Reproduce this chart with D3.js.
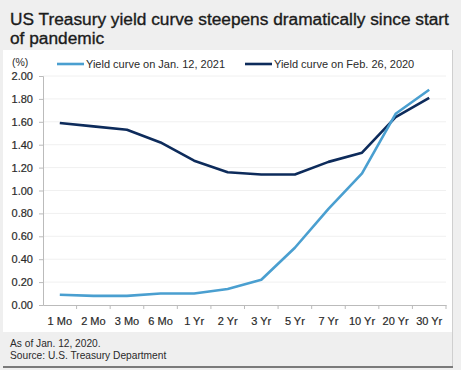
<!DOCTYPE html>
<html><head><meta charset="utf-8">
<script src="https://cdn.jsdelivr.net/npm/d3@7"></script>
<style>
html,body{margin:0;padding:0;background:#fff;}
svg{display:block;font-family:"Liberation Sans",Arial,sans-serif;}
</style></head>
<body><svg id="c" width="461" height="370"></svg>
<script>
const categories = ["1 Mo","2 Mo","3 Mo","6 Mo","1 Yr","2 Yr","3 Yr","5 Yr","7 Yr","10 Yr","20 Yr","30 Yr"];
const yieldJan2021 = [0.09,0.08,0.08,0.10,0.10,0.14,0.22,0.50,0.84,1.15,1.67,1.88];
const yieldFeb2020 = [1.59,1.56,1.53,1.42,1.26,1.16,1.14,1.14,1.25,1.33,1.64,1.81];
const yTicks = [0,0.2,0.4,0.6,0.8,1.0,1.2,1.4,1.6,1.8,2.0];
const seriesNames = ["Yield curve on Jan. 12, 2021","Yield curve on Feb. 26, 2020"];
const titleLines = ["US Treasury yield curve steepens dramatically since start","of pandemic"];
const notes = ["As of Jan. 12, 2020.","Source: U.S. Treasury Department"];

const colors = ["#4a9fd0","#0d2b5b"];
const svg = d3.select("#c");
const W = 461, H = 370;
svg.append("rect").attr("width",W).attr("height",H).attr("fill","#efefef");
svg.append("rect").attr("x",3).attr("y",50).attr("width",449).attr("height",282).attr("fill","#fff");
svg.append("line").attr("x1",452.5).attr("x2",452.5).attr("y1",50).attr("y2",367).attr("stroke","#cfcfcf").attr("stroke-width",1);
svg.append("rect").attr("x",3).attr("y",366).attr("width",450).attr("height",2).attr("fill","#7a7a7a");

svg.selectAll("text.title").data(titleLines).join("text").attr("class","title")
  .attr("x",10).attr("y",(d,i)=>25+i*19).attr("font-size",17.3).attr("fill","#1b1b1b")
  .attr("stroke","#1b1b1b").attr("stroke-width",0.35).text(d=>d);

svg.selectAll("text.note").data(notes).join("text").attr("class","note")
  .attr("x",10).attr("y",(d,i)=>347+i*12).attr("font-size",10.2).attr("fill","#2a2a2a").text(d=>d);

const x = d3.scaleBand().domain(categories).range([43,446]);
const y = d3.scaleLinear().domain([0,2]).range([305,76]);

// gridlines
svg.append("g").selectAll("line").data(yTicks.filter(d=>d>0)).join("line")
  .attr("x1",43).attr("x2",446).attr("y1",d=>y(d)).attr("y2",d=>y(d))
  .attr("stroke","#f0f0f0").attr("stroke-width",1);

const yAxis = svg.append("g").attr("transform","translate(43,0)")
  .call(d3.axisLeft(y).tickValues(yTicks).tickFormat(d3.format(".2f")).tickSize(4).tickPadding(6));
yAxis.select(".domain").attr("stroke","#bbb");
yAxis.selectAll(".tick line").attr("stroke","#bbb");
yAxis.selectAll("text").attr("font-size",11).attr("fill","#2a2a2a").attr("font-family","Liberation Sans,Arial,sans-serif")
  .attr("stroke","#2a2a2a").attr("stroke-width",0.2);

const xAxis = svg.append("g").attr("transform","translate(0,305)")
  .call(d3.axisBottom(x).tickSize(0).tickPadding(12));
xAxis.select(".domain").attr("stroke","#bbb");
xAxis.selectAll("text").attr("font-size",11).attr("fill","#2a2a2a").attr("font-family","Liberation Sans,Arial,sans-serif")
  .attr("stroke","#2a2a2a").attr("stroke-width",0.2);
// tick marks at band boundaries
svg.append("g").selectAll("line").data(categories.slice(1).concat(["end"])).join("line")
  .attr("x1",(d,i)=> i<categories.length-1 ? x(d) : x.range()[1])
  .attr("x2",(d,i)=> i<categories.length-1 ? x(d) : x.range()[1])
  .attr("y1",305).attr("y2",309).attr("stroke","#bbb");

const line = d3.line().x((d,i)=>x(categories[i])+x.bandwidth()/2).y(d=>y(d));
[yieldFeb2020, yieldJan2021].forEach((s,k)=>{
  const c = k===0 ? colors[1] : colors[0];
  svg.append("path").datum(s).attr("d",line).attr("fill","none").attr("stroke",c)
    .attr("stroke-width",2.6).attr("stroke-linejoin","round");
});

// legend
svg.append("text").attr("x",12).attr("y",66).attr("font-size",10.5).attr("fill","#2a2a2a").text("(%)");
const legX = [57,245];
seriesNames.forEach((n,i)=>{
  svg.append("line").attr("x1",legX[i]).attr("x2",legX[i]+27).attr("y1",64).attr("y2",64)
    .attr("stroke",colors[i]).attr("stroke-width",2.6);
  svg.append("text").attr("x",legX[i]+29).attr("y",67.5).attr("font-size",11).attr("fill","#2a2a2a").text(n);
});
</script></body></html>
